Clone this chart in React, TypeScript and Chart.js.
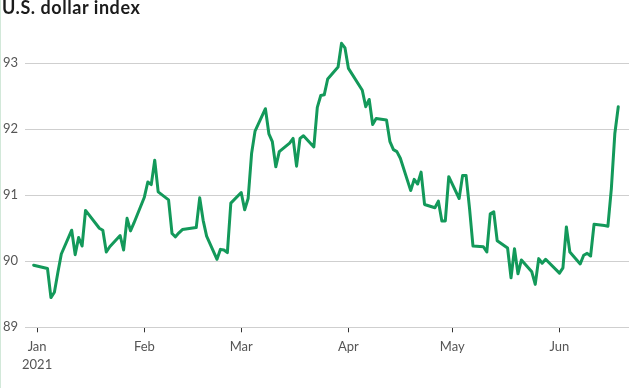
import React, { useEffect, useRef } from "react";
import { Chart, registerables } from "chart.js";

Chart.register(...registerables);

const title = "U.S. dollar index";

const dates: string[] = [
  "2020-12-31",
  "2021-01-04", "2021-01-05", "2021-01-06", "2021-01-07", "2021-01-08",
  "2021-01-11", "2021-01-12", "2021-01-13", "2021-01-14", "2021-01-15",
  "2021-01-19", "2021-01-20", "2021-01-21", "2021-01-22",
  "2021-01-25", "2021-01-26", "2021-01-27", "2021-01-28", "2021-01-29",
  "2021-02-01", "2021-02-02", "2021-02-03", "2021-02-04", "2021-02-05",
  "2021-02-08", "2021-02-09", "2021-02-10", "2021-02-11", "2021-02-12",
  "2021-02-16", "2021-02-17", "2021-02-18", "2021-02-19",
  "2021-02-22", "2021-02-23", "2021-02-24", "2021-02-25", "2021-02-26",
  "2021-03-01", "2021-03-02", "2021-03-03", "2021-03-04", "2021-03-05",
  "2021-03-08", "2021-03-09", "2021-03-10", "2021-03-11", "2021-03-12",
  "2021-03-15", "2021-03-16", "2021-03-17", "2021-03-18", "2021-03-19",
  "2021-03-22", "2021-03-23", "2021-03-24", "2021-03-25", "2021-03-26",
  "2021-03-29", "2021-03-30", "2021-03-31", "2021-04-01",
  "2021-04-05", "2021-04-06", "2021-04-07", "2021-04-08", "2021-04-09",
  "2021-04-12", "2021-04-13", "2021-04-14", "2021-04-15", "2021-04-16",
  "2021-04-19", "2021-04-20", "2021-04-21", "2021-04-22", "2021-04-23",
  "2021-04-26", "2021-04-27", "2021-04-28", "2021-04-29", "2021-04-30",
  "2021-05-03", "2021-05-04", "2021-05-05", "2021-05-06", "2021-05-07",
  "2021-05-10", "2021-05-11", "2021-05-12", "2021-05-13", "2021-05-14",
  "2021-05-17", "2021-05-18", "2021-05-19", "2021-05-20", "2021-05-21",
  "2021-05-24", "2021-05-25", "2021-05-26", "2021-05-27", "2021-05-28",
  "2021-06-01", "2021-06-02", "2021-06-03", "2021-06-04",
  "2021-06-07", "2021-06-08", "2021-06-09", "2021-06-10", "2021-06-11",
  "2021-06-14", "2021-06-15", "2021-06-16", "2021-06-17", "2021-06-18",
];

const values: number[] = [
  89.94,
  89.89, 89.45, 89.53, 89.83, 90.11,
  90.47, 90.10, 90.36, 90.23, 90.77,
  90.50, 90.47, 90.14, 90.22,
  90.39, 90.17, 90.65, 90.46, 90.58,
  90.97, 91.20, 91.16, 91.53, 91.05,
  90.93, 90.42, 90.37, 90.43, 90.48,
  90.51, 90.96, 90.62, 90.38,
  90.03, 90.18, 90.17, 90.13, 90.88,
  91.04, 90.78, 90.95, 91.63, 91.97,
  92.31, 91.93, 91.81, 91.43, 91.66,
  91.79, 91.86, 91.44, 91.86, 91.90,
  91.73, 92.33, 92.51, 92.52, 92.76,
  92.94, 93.30, 93.23, 92.92,
  92.59, 92.34, 92.45, 92.07, 92.16,
  92.14, 91.81, 91.69, 91.66, 91.56,
  91.07, 91.24, 91.17, 91.35, 90.86,
  90.81, 90.91, 90.61, 90.61, 91.28,
  90.95, 91.30, 91.30, 90.80, 90.23,
  90.22, 90.14, 90.72, 90.75, 90.31,
  90.20, 89.75, 90.19, 89.81, 90.02,
  89.84, 89.65, 90.04, 89.97, 90.03,
  89.82, 89.90, 90.52, 90.14,
  89.96, 90.09, 90.12, 90.08, 90.56,
  90.54, 90.53, 91.10, 91.93, 92.34,
];

const monthTickDates: string[] = ["2021-01-01", "2021-02-01", "2021-03-01", "2021-04-01", "2021-05-01", "2021-06-01"];
const monthTickLabels: (string | string[])[] = [["Jan", "2021"], "Feb", "Mar", "Apr", "May", "Jun"];
const yTickValues: number[] = [89, 90, 91, 92, 93];

const ORIGIN = Date.UTC(2021, 0, 1);
const dayOf = (s: string) => {
  const [y, m, d] = s.split("-").map(Number);
  return (Date.UTC(y, m - 1, d) - ORIGIN) / 86400000;
};

export default function App() {
  const ref = useRef<HTMLCanvasElement | null>(null);

  useEffect(() => {
    if (!ref.current) return;
    const tickDays = monthTickDates.map(dayOf);
    const points = dates.map((d, i) => ({ x: dayOf(d), y: values[i] }));
    const labelFont = { family: "Lato, 'Open Sans', sans-serif", size: 13, lineHeight: 1.4 };

    const chart = new Chart(ref.current, {
      type: "line",
      data: {
        datasets: [
          {
            data: points,
            borderColor: "#13995a",
            borderWidth: 3,
            pointRadius: 0,
            pointHoverRadius: 0,
            tension: 0,
            fill: false,
            borderJoinStyle: "round",
            borderCapStyle: "round",
          },
        ],
      },
      options: {
        animation: false,
        responsive: false,
        devicePixelRatio: 1,
        events: [],
        layout: { padding: { top: 40, left: 0, right: 0, bottom: 0 } },
        plugins: { legend: { display: false }, tooltip: { enabled: false }, title: { display: false } },
        scales: {
          x: {
            type: "linear",
            min: -3.5,
            max: 171.1,
            afterBuildTicks: (scale: any) => {
              scale.ticks = tickDays.map((v) => ({ value: v }));
            },
            afterFit: (scale: any) => {
              scale.height = 60.7;
            },
            ticks: {
              autoSkip: false,
              maxRotation: 0,
              color: "#555",
              font: labelFont,
              padding: 5,
              callback: (v: any) => {
                const i = tickDays.indexOf(Number(v));
                return i >= 0 ? monthTickLabels[i] : "";
              },
            },
            grid: { drawOnChartArea: false, drawTicks: true, tickLength: 5, tickColor: "#333", tickWidth: 1 },
            border: { display: true, color: "#cfcfcf", width: 1 },
          },
          y: {
            type: "linear",
            min: 89,
            max: 93.35,
            afterBuildTicks: (scale: any) => {
              scale.ticks = yTickValues.map((v) => ({ value: v }));
            },
            afterFit: (scale: any) => {
              scale.width = 25;
            },
            ticks: { color: "#555", font: labelFont, padding: 7 },
            grid: { color: "#cfcfcf", lineWidth: 1, drawTicks: false },
            border: { display: false },
          },
        },
      },
    } as any);
    return () => chart.destroy();
  }, []);

  return (
    <div style={{ position: "fixed", left: 0, top: 0, width: 629, height: 388, background: "#fff" }}>
      <div style={{ position: "absolute", left: 0, top: 0, width: 1, height: 388, background: "#d2e8d9" }} />
      <canvas ref={ref} width={629} height={388} style={{ position: "absolute", left: 0, top: 0 }} />
      <div
        style={{
          position: "absolute",
          left: 2,
          top: -2,
          fontFamily: "Lato, 'Open Sans', sans-serif",
          fontWeight: 700,
          fontSize: 18,
          lineHeight: "18px",
          color: "#1b1b1b",
          whiteSpace: "nowrap",
          letterSpacing: 0.55,
        }}
      >
        {title}
      </div>
    </div>
  );
}
